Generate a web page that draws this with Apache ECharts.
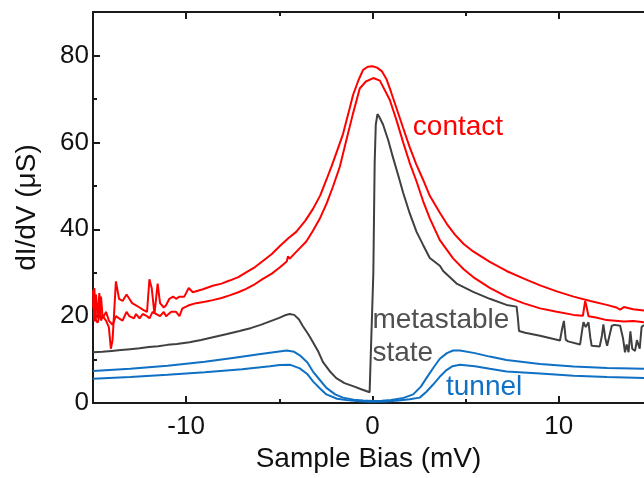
<!DOCTYPE html>
<html>
<head>
<meta charset="utf-8">
<script src="https://cdn.jsdelivr.net/npm/echarts@6/dist/echarts.min.js"></script>
<style>
html,body{margin:0;padding:0;background:#fff;}
#chart{width:644px;height:478px;}
</style>
</head>
<body>
<div id="chart"></div>
<script>
// ---- data ----
const contactUpperX = [-15.0,-14.93,-14.84,-14.75,-14.66,-14.57,-14.48,-14.3,-14.15,-14.04,-13.95,-13.77,-13.6,-13.41,-13.2,-13.05,-12.9,-12.69,-12.5,-12.33,-12.1,-11.97,-11.85,-11.7,-11.53,-11.4,-11.2,-11.08,-10.9,-10.7,-10.54,-10.36,-10.1,-9.86,-9.64,-9.1,-8.57,-8.1,-7.67,-7.2,-6.78,-6.3,-5.88,-5.4,-4.98,-4.5,-4.09,-3.6,-3.19,-2.8,-2.47,-2.2,-1.9,-1.58,-1.3,-1.04,-0.75,-0.5,-0.25,0,0.25,0.5,0.75,1.0,1.29,1.65,2.0,2.35,2.72,3.08,3.62,4.0,4.44,4.9,5.41,6.3,7.2,8.1,9.0,9.9,10.8,11.7,12.58,13.1,13.3,13.5,14.0,14.58];
const contactUpperY = [26.0,18.8,25.0,19.5,25.3,19.0,20.0,19.0,17.5,12.5,14.5,28.0,24.0,23.5,25.0,24.0,23.0,22.5,22.0,21.5,21.0,28.5,26.5,20.5,27.5,23.0,22.0,22.5,24.0,24.5,24.0,24.5,24.5,26.5,25.5,26.2,27.0,27.5,28.2,29.0,30.1,31.3,32.7,34.3,36.1,38.0,39.4,42.0,44.7,47.8,51.4,54.4,58.0,61.9,66.5,70.9,74.3,76.7,77.4,77.5,77.2,76.4,74.6,71.6,67.9,63.3,58.9,55.0,51.4,47.7,43.8,41.2,38.7,36.6,34.9,32.5,30.4,28.7,27.1,25.7,24.5,23.5,22.6,22.0,21.5,22.1,21.6,21.3];

const contactLowerX = [-15.0,-14.93,-14.84,-14.75,-14.66,-14.57,-14.48,-14.3,-14.15,-13.95,-13.77,-13.6,-13.41,-13.2,-13.05,-12.8,-12.69,-12.5,-12.33,-12.1,-11.97,-11.8,-11.6,-11.4,-11.2,-11.08,-10.8,-10.54,-10.36,-10.2,-9.86,-9.46,-9.0,-8.57,-8.1,-7.67,-7.2,-6.78,-6.3,-5.88,-5.4,-4.98,-4.6,-4.53,-4.45,-4.0,-3.55,-3.2,-2.83,-2.45,-2.11,-1.75,-1.4,-1.05,-0.68,-0.35,0.05,0.4,0.93,1.3,1.65,2.0,2.37,2.72,3.08,3.62,4.33,4.9,5.41,6.3,7.2,8.1,9.0,9.9,10.8,11.3,11.42,11.48,11.6,12.0,12.58,13.5,14.0,14.58];
const contactLowerY = [22.0,26.5,19.0,18.5,20.0,24.5,19.5,21.0,19.0,18.0,20.0,19.5,19.0,21.0,20.0,19.5,20.5,19.5,20.5,20.0,19.5,21.0,20.5,20.0,21.0,20.0,21.0,21.0,20.0,21.8,22.5,23.0,23.3,23.7,24.2,24.8,25.5,26.3,27.4,28.6,29.8,31.2,32.6,33.8,33.2,35.2,37.2,39.6,42.4,46.0,49.9,54.4,60.5,66.5,72.4,74.0,74.8,74.2,69.8,65.0,60.0,55.3,51.0,46.5,42.5,37.5,33.3,30.8,29.0,26.5,24.5,23.0,21.8,21.0,20.3,20.1,23.5,22.5,20.0,19.7,19.1,18.8,18.9,18.6];

const metaX = [-15,-14.5,-14,-13.5,-13,-12.5,-12,-11.5,-11,-10.5,-9.82,-9.2,-8.5,-7.8,-7.13,-6.5,-6,-5.5,-5,-4.7,-4.44,-4.2,-3.95,-3.73,-3.45,-3.19,-2.9,-2.66,-2.3,-1.94,-1.5,-1.04,-0.6,-0.15,-0.05,0.05,0.12,0.18,0.27,0.35,0.57,0.85,1.1,1.4,1.65,2.0,2.37,2.72,3.08,3.62,3.8,4.52,5.41,6.3,7.2,7.74,7.8,7.87,8.2,9.0,10.07,10.18,10.28,10.38,10.5,11.15,11.25,11.33,11.45,11.6,11.7,11.77,12.2,12.32,12.4,12.5,12.6,12.7,12.85,13.0,13.3,13.45,13.56,13.65,13.75,13.85,13.95,14.1,14.2,14.35,14.45,14.58];
const metaY = [11.7,11.8,12.0,12.2,12.4,12.6,12.9,13.1,13.4,13.6,14.0,14.5,15.2,15.9,16.6,17.3,18.0,18.8,19.6,20.2,20.5,20.3,19.3,17.7,15.9,14.0,11.8,9.5,7.4,5.75,4.6,3.9,3.2,2.5,2.3,30,55,64,66.5,66.0,64.1,60.5,56.6,52.2,48.4,43.7,39.4,36.4,33.4,31.6,30.4,27.5,25.6,24.0,22.6,22.2,20,16.6,16.2,15.5,14.4,17.0,18.9,14.6,14.2,13.5,16.5,18.6,17.5,18.6,15.0,13.2,13.0,15.5,18.1,15.0,13.2,13.0,17.8,18.0,17.8,15,11.7,13.5,11.7,16.5,12.5,12.0,14.5,12.5,17.5,18.0];

const tunnelUpperX = [-15,-13,-11,-9,-7.5,-6,-5,-4.6,-4.2,-3.9,-3.5,-3.19,-2.8,-2.47,-2.0,-1.58,-1.0,-0.5,0,0.5,1.0,1.6,2.19,2.6,2.9,3.3,3.62,4.0,4.33,4.7,5.5,6.3,7.2,9,10.8,12.6,14.58];
const tunnelUpperY = [7.4,7.9,8.6,9.5,10.4,11.3,11.9,12.1,11.8,11.0,9.4,7.25,5.2,3.5,2.0,1.26,0.8,0.6,0.5,0.55,0.7,1.1,2.0,3.8,5.75,8.3,10.2,11.5,12.1,12.1,11.5,10.7,9.9,9.0,8.4,8.1,7.9];

const tunnelLowerX = [-15,-13,-11,-9,-7,-5.5,-4.98,-4.4,-3.9,-3.5,-3.19,-2.8,-2.47,-1.9,-1.4,-0.7,0,0.7,1.4,2.0,2.54,2.9,3.26,3.6,3.98,4.3,4.7,5.5,6.3,7.2,9,10.8,12.6,14.58];
const tunnelLowerY = [5.6,6.0,6.5,7.1,7.8,8.5,8.75,8.8,8.0,6.7,5.0,3.3,2.0,1.0,0.7,0.45,0.3,0.35,0.6,0.9,1.26,2.6,4.27,6.0,7.6,8.5,8.8,8.5,7.9,7.25,6.8,6.3,6.0,5.75];

const xMajorTicks = [-10, 0, 10];
const xMinorTicks = [-5, 5];
const yMajorTicks = [0, 20, 40, 60, 80];
const yMinorTicks = [10, 30, 50, 70];

const annotationTexts = ['contact', 'metastable', 'state', 'tunnel'];
const annotationX = [2.17, 0.0, 0.0, 3.95];
const annotationY = [63.5, 19.0, 11.5, 3.7];

// ---- chart ----
const FONT = "'Liberation Sans', Arial, sans-serif";
const AX = '#1a1a1a';
const RED = '#ff0000', GRAY = '#404040', BLUE = '#0f70c4';
const XMIN = -15, XMAX = 14.58;

function zip(xs, ys) { return xs.map((x, i) => [x, ys[i]]); }
function line(name, xs, ys, color, w) {
  return { name, type: 'line', data: zip(xs, ys), showSymbol: false, symbol: 'none',
    lineStyle: { color, width: w }, xAxisIndex: 0, yAxisIndex: 0, animation: false, z: 3 };
}
function xAx(pos, ticks, len, showLine, showLabel, extra) {
  return Object.assign({
    type: 'value', position: pos, min: XMIN, max: XMAX,
    axisLine: { show: showLine, onZero: false, lineStyle: { color: AX, width: 2 } },
    axisTick: { show: true, inside: true, length: len, customValues: ticks, lineStyle: { color: AX, width: 2 } },
    axisLabel: showLabel ? { show: true, customValues: ticks, fontSize: 26, color: '#111', margin: 11, fontFamily: FONT }
                         : { show: false },
    splitLine: { show: false }
  }, extra || {});
}
function yAx(ticks, len, showLine, showLabel, extra) {
  return Object.assign({
    type: 'value', position: 'left', min: 0, max: 90,
    axisLine: { show: showLine, onZero: false, lineStyle: { color: AX, width: 2 } },
    axisTick: { show: true, inside: true, length: len, customValues: ticks, lineStyle: { color: AX, width: 2 } },
    axisLabel: showLabel ? { show: true, customValues: ticks, fontSize: 26, color: '#111', margin: 4, fontFamily: FONT }
                         : { show: false },
    splitLine: { show: false }
  }, extra || {});
}

const chart = echarts.init(document.getElementById('chart'), null, { renderer: 'canvas' });
chart.setOption({
  animation: false,
  backgroundColor: '#fff',
  textStyle: { fontFamily: FONT },
  grid: { left: 93, right: 0, top: 12, bottom: 66, containLabel: false },
  xAxis: [
    xAx('bottom', xMajorTicks, 7, true, true, {
      name: 'Sample Bias (mV)', nameLocation: 'middle', nameGap: 38,
      nameTextStyle: { fontSize: 28, color: '#111', fontFamily: FONT }
    }),
    xAx('bottom', xMinorTicks, 4, false, false),
    xAx('top', xMajorTicks, 7, true, false),
    xAx('top', xMinorTicks, 4, false, false)
  ],
  yAxis: [
    yAx(yMajorTicks, 7, true, true, {
      name: 'dI/dV (μS)', nameLocation: 'middle', nameGap: 52,
      nameTextStyle: { fontSize: 28, color: '#111', fontFamily: FONT }
    }),
    yAx(yMinorTicks, 4, false, false)
  ],
  series: [
    line('tunnel lower', tunnelLowerX, tunnelLowerY, BLUE, 2),
    line('tunnel upper', tunnelUpperX, tunnelUpperY, BLUE, 2),
    line('metastable', metaX, metaY, GRAY, 2),
    line('contact lower', contactLowerX, contactLowerY, RED, 2),
    line('contact upper', contactUpperX, contactUpperY, RED, 2)
  ]
});

const annColors = [RED, '#505050', '#505050', BLUE];
const graphics = annotationTexts.map((t, i) => {
  const p = chart.convertToPixel({ xAxisIndex: 0, yAxisIndex: 0 }, [annotationX[i], annotationY[i]]);
  return { type: 'text', x: p[0], y: p[1], z: 10,
    style: { text: t, fill: annColors[i], fontSize: 28, fontFamily: FONT, align: 'left', verticalAlign: 'middle' } };
});
chart.setOption({ graphic: graphics });
</script>
</body>
</html>
